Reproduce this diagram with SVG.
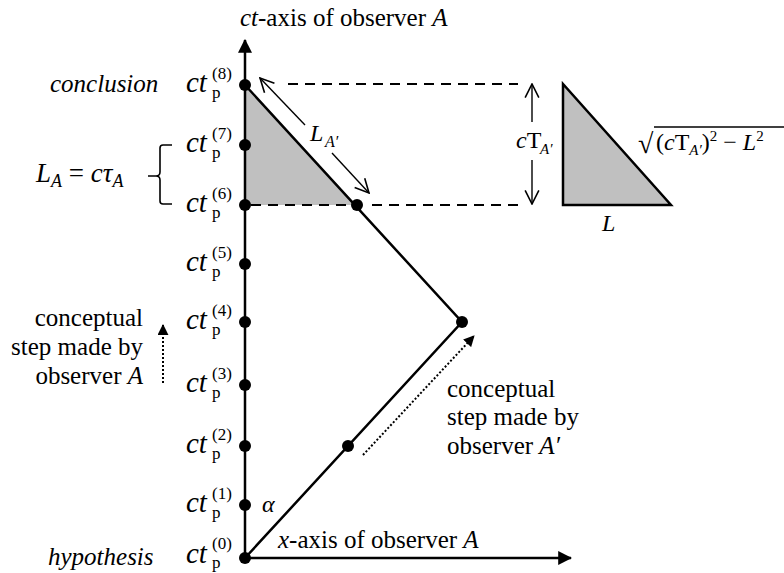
<svg xmlns="http://www.w3.org/2000/svg" width="784" height="573" viewBox="0 0 784 573">
<defs>
<marker id="fa" viewBox="0 0 12 12" refX="11" refY="6" markerWidth="14" markerHeight="14" markerUnits="userSpaceOnUse" orient="auto"><path d="M0,0 L12,6 L0,12 z" fill="#000"/></marker>
<marker id="fs" viewBox="0 0 12 12" refX="11" refY="6" markerWidth="11" markerHeight="11" markerUnits="userSpaceOnUse" orient="auto"><path d="M0,0 L12,6 L0,12 z" fill="#000"/></marker>
<marker id="oa" viewBox="0 0 14 14" refX="13" refY="7" markerWidth="16" markerHeight="16" markerUnits="userSpaceOnUse" orient="auto"><path d="M1,1 L13,7 L1,13" fill="none" stroke="#000" stroke-width="1.4"/></marker>
</defs>

<polygon id="shade" points="245,85 245,205 356,205" fill="#c0c0c0"/>

<g id="connectors" fill="none" stroke="#000">
<g stroke-width="2.5">
<line x1="245" y1="560" x2="245" y2="40" marker-end="url(#fa)"/>
<line x1="245" y1="558" x2="571" y2="558" marker-end="url(#fa)"/>
<polyline points="245,85 462,322 245,558"/>
</g>
<g stroke-width="2" stroke-dasharray="10 7">
<line x1="288" y1="84" x2="518" y2="84"/>
<line x1="251" y1="205" x2="352" y2="205"/>
<line x1="372" y1="205" x2="518" y2="205"/>
</g>
<g stroke-width="1.4">
<line x1="305" y1="125" x2="260" y2="78" marker-end="url(#oa)"/>
<line x1="332" y1="153" x2="369" y2="193" marker-end="url(#oa)"/>
<line x1="532" y1="122" x2="532" y2="84" marker-end="url(#oa)"/>
<line x1="532" y1="160" x2="532" y2="204" marker-end="url(#oa)"/>
<path d="M172,145 L163,145 Q160,145 160,148 L160,172 Q160,176 156,176 L148,176 M156,176 Q160,176 160,180 L160,201 Q160,204 163,204 L172,204" stroke-width="1.6"/>
</g>
<g stroke-width="2" stroke-dasharray="2 2">
<line x1="163" y1="383" x2="163" y2="325" marker-end="url(#fs)"/>
<line x1="363" y1="455" x2="474" y2="336" marker-end="url(#fs)"/>
</g>
</g>

<g font-family="Liberation Serif" fill="#000">
<g id="p8"><circle cx="245" cy="85" r="6"/><text font-size="29" font-style="italic" x="186" y="92">ct</text><text font-size="17" x="212" y="98">p</text><text font-size="17" x="212" y="79">(8)</text></g>
<g id="p7"><circle cx="245" cy="145" r="6"/><text font-size="29" font-style="italic" x="186" y="152">ct</text><text font-size="17" x="212" y="158">p</text><text font-size="17" x="212" y="139">(7)</text></g>
<g id="p6"><circle cx="245" cy="205" r="6"/><text font-size="29" font-style="italic" x="186" y="212">ct</text><text font-size="17" x="212" y="218">p</text><text font-size="17" x="212" y="199">(6)</text></g>
<g id="p5"><circle cx="245" cy="264" r="6"/><text font-size="29" font-style="italic" x="186" y="271">ct</text><text font-size="17" x="212" y="277">p</text><text font-size="17" x="212" y="258">(5)</text></g>
<g id="p4"><circle cx="245" cy="322" r="6"/><text font-size="29" font-style="italic" x="186" y="329">ct</text><text font-size="17" x="212" y="335">p</text><text font-size="17" x="212" y="316">(4)</text></g>
<g id="p3"><circle cx="245" cy="385" r="6"/><text font-size="29" font-style="italic" x="186" y="392">ct</text><text font-size="17" x="212" y="398">p</text><text font-size="17" x="212" y="379">(3)</text></g>
<g id="p2"><circle cx="245" cy="446" r="6"/><text font-size="29" font-style="italic" x="186" y="453">ct</text><text font-size="17" x="212" y="459">p</text><text font-size="17" x="212" y="440">(2)</text></g>
<g id="p1"><circle cx="245" cy="505" r="6"/><text font-size="29" font-style="italic" x="186" y="512">ct</text><text font-size="17" x="212" y="518">p</text><text font-size="17" x="212" y="499">(1)</text></g>
<g id="p0"><circle cx="245" cy="558" r="6"/><text font-size="29" font-style="italic" x="186" y="563">ct</text><text font-size="17" x="212" y="568">p</text><text font-size="17" x="212" y="549">(0)</text></g>

<g id="q6"><circle cx="357" cy="205" r="6"/></g>
<g id="q4"><circle cx="462" cy="322" r="6"/></g>
<g id="q2"><circle cx="348" cy="446" r="6"/></g>

<g id="labels" font-size="25">
<text x="240" y="26"><tspan font-style="italic">ct</tspan>-axis of observer <tspan font-style="italic">A</tspan></text>
<text x="278" y="548"><tspan font-style="italic">x</tspan>-axis of observer <tspan font-style="italic">A</tspan></text>
<text font-style="italic" x="50" y="92">conclusion</text>
<text font-style="italic" x="48" y="565">hypothesis</text>
<text font-size="27" x="36" y="182"><tspan font-style="italic">L</tspan><tspan font-style="italic" font-size="18" dy="5">A</tspan><tspan dy="-5"> = </tspan><tspan font-style="italic">cτ</tspan><tspan font-style="italic" font-size="18" dy="5">A</tspan></text>
<text font-size="24" font-style="italic" x="310" y="141">L</text><text font-style="italic" font-size="16" x="325" y="147">A′</text>
<text font-size="24" x="516" y="148"><tspan font-style="italic">c</tspan>T</text><text font-style="italic" font-size="15" x="540" y="154">A′</text>
<text x="143" y="326" text-anchor="end">conceptual</text>
<text x="143" y="355" text-anchor="end">step made by</text>
<text x="143" y="384" text-anchor="end">observer <tspan font-style="italic">A</tspan></text>
<text x="447" y="397">conceptual</text>
<text x="447" y="425">step made by</text>
<text x="447" y="454">observer <tspan font-style="italic">A′</tspan></text>
<text font-size="24" font-style="italic" x="262" y="512">α</text>
</g>

<g id="triangle">
<polygon points="563,84 563,205 671,205" fill="#c0c0c0" stroke="#000" stroke-width="2.5"/>
<text font-size="24" font-style="italic" x="602" y="231">L</text>
<text x="638" y="153" font-size="28">√</text>
<line x1="654" y1="127" x2="784" y2="127" stroke="#000" stroke-width="1.4"/>
<text font-size="24" x="656" y="150">(<tspan font-style="italic">c</tspan>T<tspan font-style="italic" font-size="15" dy="5">A′</tspan><tspan dy="-5">)</tspan><tspan font-size="15" dy="-9">2</tspan><tspan dy="9"> − </tspan><tspan font-style="italic">L</tspan><tspan font-size="15" dy="-9">2</tspan></text>
</g>
</g>
</svg>
